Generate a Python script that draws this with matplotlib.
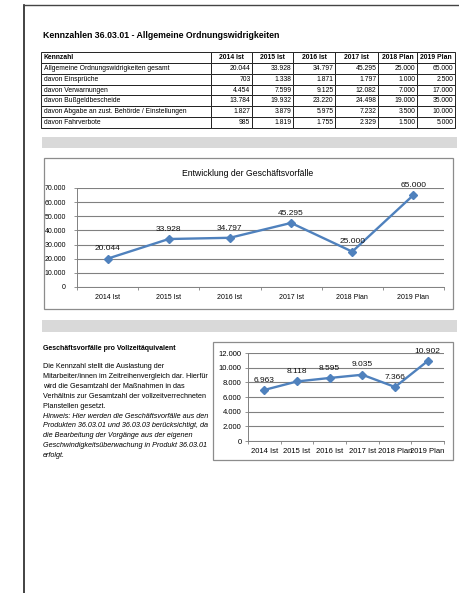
import matplotlib
matplotlib.use("Agg")
import matplotlib.pyplot as plt
from matplotlib.patches import Rectangle

plt.rcParams['font.family'] = ['Liberation Sans', 'DejaVu Sans']

# data
years = ["2014 Ist", "2015 Ist", "2016 Ist", "2017 Ist", "2018 Plan", "2019 Plan"]
row_labels = [
    "Allgemeine Ordnungswidrigkeiten gesamt",
    "davon Einsprüche",
    "davon Verwarnungen",
    "davon Bußgeldbescheide",
    "davon Abgabe an zust. Behörde / Einstellungen",
    "davon Fahrverbote",
]
gesamt = [20044, 33928, 34797, 45295, 25000, 65000]
einsprueche = [703, 1338, 1871, 1797, 1000, 2500]
verwarnungen = [4454, 7599, 9125, 12082, 7000, 17000]
bussgeld = [13784, 19932, 23220, 24498, 19000, 35000]
abgabe = [1827, 3879, 5975, 7232, 3500, 10000]
fahrverbote = [985, 1819, 1755, 2329, 1500, 5000]
pro_vze = [6963, 8118, 8595, 9035, 7366, 10902]

BLUE = "#4F81BD"
W, H = 459, 593


def de(v):
    return f"{v:,}".replace(",", ".")


def px_axes(fig, x0, y0, x1, y1, **kw):
    # pixel box (top-left origin) -> figure fraction
    return fig.add_axes([x0 / W, 1 - y1 / H, (x1 - x0) / W, (y1 - y0) / H], **kw)


fig = plt.figure(figsize=(W / 100, H / 100), dpi=100)

# page background in pixel coords
bg = px_axes(fig, 0, 0, W, H)
bg.set_xlim(0, W)
bg.set_ylim(H, 0)
bg.axis("off")
bg.plot([24, 24], [5, H], color="#222222", lw=1.2)
bg.plot([24, W], [5, 5], color="#444444", lw=1.0)
bg.add_patch(Rectangle((42, 137), 415, 11, color="#D9D9D9", lw=0))
bg.add_patch(Rectangle((42, 320), 415, 12, color="#D9D9D9", lw=0))
bg.add_patch(Rectangle((44, 158), 409, 151, fill=False, ec="#8C8C8C", lw=0.9))
bg.add_patch(Rectangle((213, 342), 240, 118, fill=False, ec="#8C8C8C", lw=0.9))

bg.text(43, 35, "Kennzahlen 36.03.01 - Allgemeine Ordnungswidrigkeiten",
        fontsize=6.35, fontweight="bold", va="center", ha="left")
bg.text(248, 173, "Entwicklung der Geschäftsvorfälle",
        fontsize=6.2, va="center", ha="center")
bg.text(43, 348, "Geschäftsvorfälle pro Vollzeitäquivalent",
        fontsize=5.0, fontweight="bold", va="center", ha="left")

para = [
    ("Die Kennzahl stellt die Auslastung der", "normal"),
    ("Mitarbeiter/innen im Zeitreihenvergleich dar. Hierfür", "normal"),
    ("wird die Gesamtzahl der Maßnahmen in das", "normal"),
    ("Verhältnis zur Gesamtzahl der vollzeitverrechneten", "normal"),
    ("Planstellen gesetzt.", "normal"),
    ("Hinweis: Hier werden die Geschäftsvorfälle aus den", "italic"),
    ("Produkten 36.03.01 und 36.03.03 berücksichtigt, da", "italic"),
    ("die Bearbeitung der Vorgänge aus der eigenen", "italic"),
    ("Geschwindigkeitsüberwachung in Produkt 36.03.01", "italic"),
    ("erfolgt.", "italic"),
]
for i, (line, style) in enumerate(para):
    bg.text(43, 367 + i * 9.8, line, fontsize=5.2, style=style,
            va="center", ha="left")

# table
tab_ax = px_axes(fig, 41, 52, 455, 128)
tab_ax.axis("off")
rows = [gesamt, einsprueche, verwarnungen, bussgeld, abgabe, fahrverbote]
cell_text = [["Kennzahl"] + years]
for lab, vals in zip(row_labels, rows):
    cell_text.append([lab] + [de(v) for v in vals])
widths = [170, 41, 41, 42, 43, 39, 38]
tot = sum(widths)
tbl = tab_ax.table(cellText=cell_text, colWidths=[w / tot for w in widths],
                   bbox=[0, 0, 1, 1], cellLoc="right")
tbl.auto_set_font_size(False)
tbl.set_fontsize(4.9)
for (r, c), cell in tbl.get_celld().items():
    cell.set_edgecolor("#222222")
    cell.set_linewidth(0.7)
    cell.PAD = 0.015 if c == 0 else 0.04
    t = cell.get_text()
    if c == 0:
        t.set_ha("left")
    elif r == 0:
        t.set_ha("center")
    if r == 0:
        t.set_fontweight("bold")


def line_chart(ax, vals, ymax, step, fs, lfs, ypad):
    x = range(len(years))
    ax.plot(x, vals, color=BLUE, lw=1.7, marker="D", ms=4.3, zorder=3)
    for xi, v in zip(x, vals):
        ax.annotate(de(v), (xi, v), xytext=(0, 4.5), textcoords="offset points",
                    ha="center", va="bottom", fontsize=lfs, color="#111111")
    ax.set_xlim(-0.5, len(years) - 0.5)
    ax.set_ylim(0, ymax)
    ax.set_yticks(range(0, ymax + 1, step))
    ax.set_yticklabels([de(v) for v in range(0, ymax + 1, step)])
    ax.set_xticks(list(x))
    ax.set_xticklabels(years)
    ax.set_xticks([i + 0.5 for i in range(-1, len(years))], minor=True)
    ax.tick_params(axis="x", which="major", length=0, labelsize=fs, pad=5)
    ax.tick_params(axis="x", which="minor", length=2.5, width=0.6, color="#808080")
    ax.tick_params(axis="y", length=2.5, width=0.6, color="#808080",
                   labelsize=fs, pad=ypad)
    ax.grid(axis="y", color="#808080", lw=0.8)
    ax.set_axisbelow(True)
    for s in ["top", "right"]:
        ax.spines[s].set_visible(False)
    for s in ["left", "bottom"]:
        ax.spines[s].set_color("#808080")
        ax.spines[s].set_linewidth(0.7)


ax1 = px_axes(fig, 77, 188, 444, 287)
line_chart(ax1, gesamt, 70000, 10000, fs=5.0, lfs=6.0, ypad=5.5)

ax2 = px_axes(fig, 248, 353, 444, 441)
line_chart(ax2, pro_vze, 12000, 2000, fs=5.5, lfs=6.0, ypad=2.0)

fig.savefig("out.png", dpi=100)
